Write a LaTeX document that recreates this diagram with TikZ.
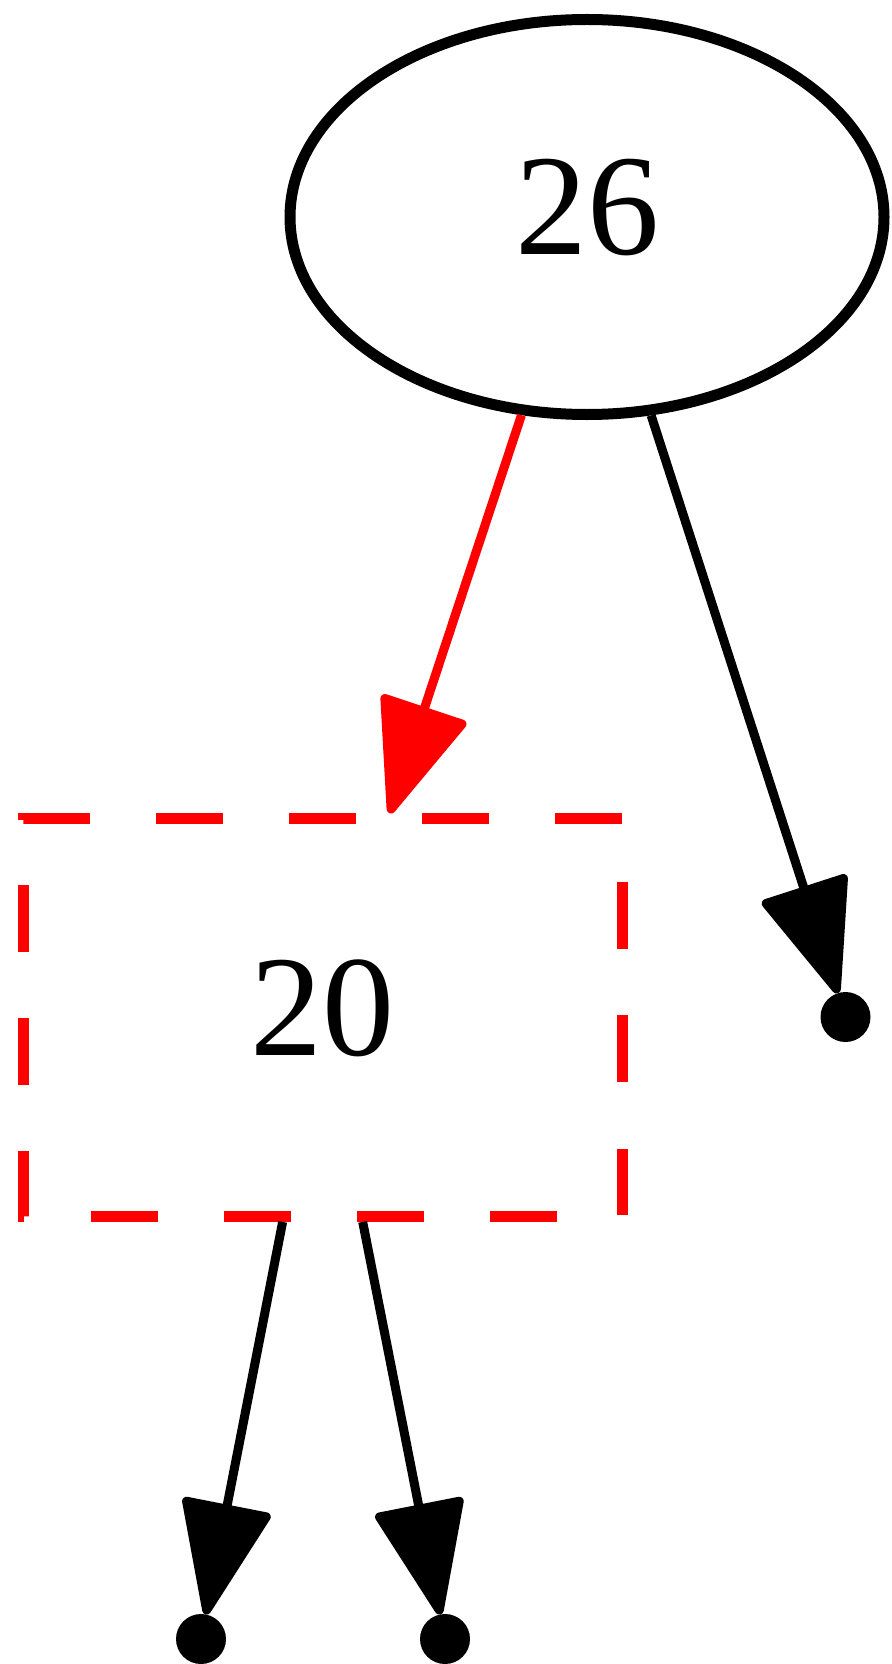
\documentclass[tikz,border=0pt]{standalone}
\usepackage{fontspec}
\setmainfont{Liberation Serif}
\usetikzlibrary{shapes.geometric,arrows.meta}
\begin{document}
\begin{tikzpicture}[x=0.5pt,y=-0.5pt,
  lbl/.style={font=\fontsize{72}{80}\selectfont, text depth=10pt},
  ellnode/.style={ellipse, draw, line width=5.5pt, minimum width=297pt, minimum height=197.5pt, inner sep=0pt, lbl},
  boxnode/.style={rectangle, minimum width=299.5pt, minimum height=199pt, inner sep=0pt, outer sep=0pt, lbl},
  dashbox/.style={draw=red, line width=5.5pt, dash pattern=on 33.28pt off 33.28pt},
  leaf/.style={circle, fill=black, minimum size=25pt, inner sep=0pt, outer sep=0pt},
  edge/.style={line width=4.5pt, -{Triangle[length=60pt,width=46pt,round]}},
]
\useasboundingbox (0,0) rectangle (892,1664);
\node[ellnode] (n26) at (587,217) {26};
\node[boxnode] (n20) at (322.5,1017.5) {20};
\draw[dashbox] (n20.north east) -- (n20.north west) -- (n20.south west) -- (n20.south east) -- cycle;
\node[leaf] (p1) at (845.5,1017) {};
\node[leaf] (p2) at (201,1639) {};
\node[leaf] (p3) at (445,1639) {};
\draw[edge, red, shorten >=2.75pt] (n26) -- (n20);
\draw[edge] (n26) -- (p1);
\draw[edge, shorten <=2.75pt] (n20) -- (p2);
\draw[edge, shorten <=2.75pt] (n20) -- (p3);
\end{tikzpicture}
\end{document}
